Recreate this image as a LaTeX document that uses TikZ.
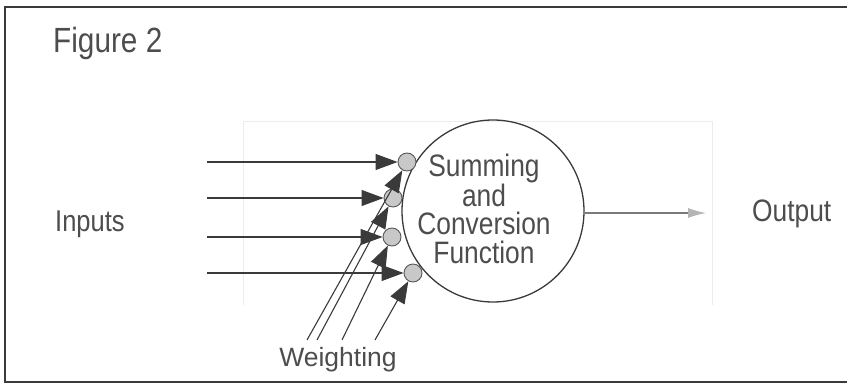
\documentclass[tikz,border=0pt]{standalone}
\usepackage{fontspec}
\setmainfont{Liberation Sans}
\newfontfamily\condfont[FakeStretch=0.85]{Liberation Sans}
\usetikzlibrary{arrows.meta}
\definecolor{ink}{HTML}{3A3A3A}
\definecolor{txt}{HTML}{4D4D4D}
\definecolor{dot}{HTML}{C8C8C8}
\definecolor{faint}{HTML}{ECECEC}
\definecolor{outgray}{HTML}{7A7A7A}
\definecolor{tipgray}{HTML}{B4B4B4}
\begin{document}
\begin{tikzpicture}[x=1pt,y=-1pt,
  lbl/.style={inner sep=0pt,text=txt},
  wdot/.style={circle,draw=ink!85,fill=dot,line width=0.9pt,minimum size=18pt,inner sep=0pt},
  feed/.style={draw=ink,line width=1.1pt,-{Triangle[length=22pt,width=16pt]}},
  outarrow/.style={draw=outgray,line width=1.1pt,-{Latex[length=18pt,width=10pt,fill=tipgray,color=tipgray]}}]
\clip (0,0) rectangle (847,385);
% frame
\draw[ink,line width=2pt] (5,7) rectangle (860,382);
% faint scan rectangle
\draw[faint,line width=0.8pt] (243,121) -- (243,305);
\draw[faint,line width=0.8pt] (243,121) -- (712,121) -- (712,305);
% texts
\node[lbl,anchor=base west,font=\condfont\fontsize{35pt}{35pt}\selectfont] (fig) at (53,53) {Figure 2};
\node[lbl,anchor=base west,font=\condfont\fontsize{30pt}{30pt}\selectfont] (inputs) at (55,232) {Inputs};
\node[lbl,anchor=base west,font=\condfont\fontsize{31pt}{31pt}\selectfont] (output) at (752,222) {Output};
\node[lbl,anchor=base,font=\fontsize{26.5pt}{26.5pt}\selectfont] (weight) at (338,366) {Weighting};
% summing circle
\node[circle,draw=ink,line width=1.3pt,minimum size=182pt,inner sep=0pt] (sum) at (493,211) {};
\node[lbl,anchor=north,align=center,font=\condfont\fontsize{31pt}{28.3pt}\selectfont] (sumtext) at (484,154) {Summing\\and\\Conversion\\Function};
% weight dots
\node[wdot] (w1) at (407,162) {};
\node[wdot] (w2) at (393,198) {};
\node[wdot] (w3) at (392,237) {};
\node[wdot] (w4) at (413,273) {};
% input starts
\coordinate (i1) at (207,162);
\coordinate (i2) at (207,198);
\coordinate (i3) at (207,237);
\coordinate (i4) at (207,273);
% weighting starts
\coordinate (s1) at (307,340);
\coordinate (s2) at (317,340);
\coordinate (s3) at (342,340);
\coordinate (s4) at (375,340);
% output end
\coordinate (oend) at (706,213);
% connectors
\draw[feed] (s1) -- (w1);
\draw[feed] (s2) -- (w2);
\draw[feed] (s3) -- (w3);
\draw[feed] (s4) -- (w4);
\draw[feed] (i1) -- (w1);
\draw[feed] (i2) -- (w2);
\draw[feed] (i3) -- (w3);
\draw[feed] (i4) -- (w4);
\draw[outarrow] (sum.east |- oend) -- (oend);
\end{tikzpicture}
\end{document}
